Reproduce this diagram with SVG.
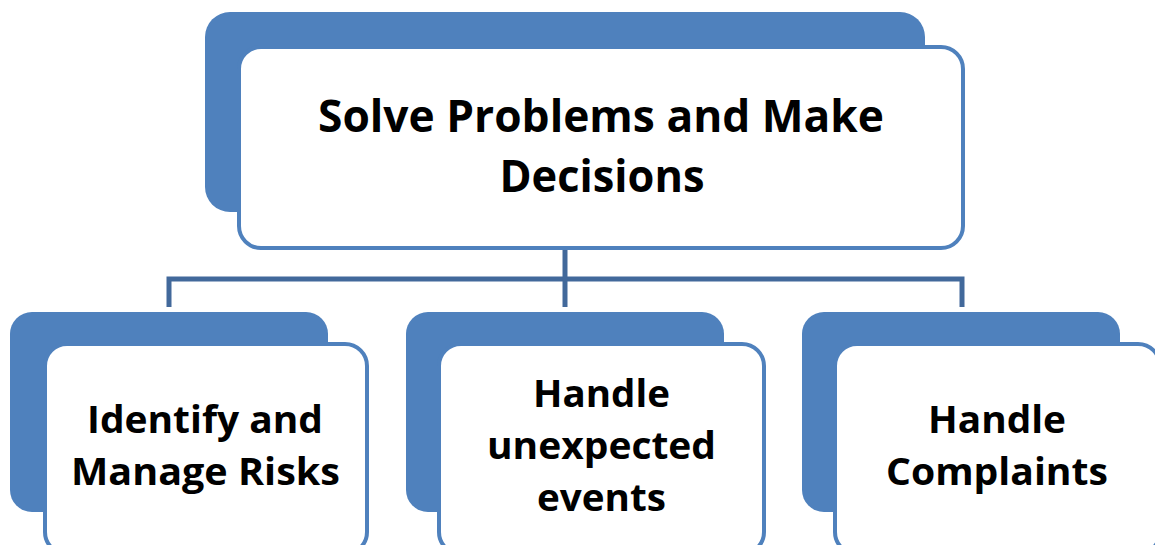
<svg xmlns="http://www.w3.org/2000/svg" width="1155" height="545" viewBox="0 0 1155 545">
<style>
.back{fill:#4f81bd;}
.front{fill:#ffffff;stroke:#4f81bd;stroke-width:4;}
.conn{fill:none;stroke:#42699b;stroke-width:5;}
.t{font-family:"Open Sans","Liberation Sans",sans-serif;font-weight:bold;fill:#000000;text-anchor:middle;}
.tt{font-size:45px;}
.bt{font-size:38px;}
</style>
<rect width="1155" height="545" fill="#ffffff"/>
<g id="connectors">
<path class="conn" d="M169 307 V279 H962 V307"/>
<path class="conn" d="M565 249 V307"/>
</g>
<g id="node-top">
<rect class="back" x="205" y="12" width="720" height="200" rx="25"/>
<rect class="front" x="239" y="47" width="724" height="201" rx="22"/>
<text class="t tt" x="601" y="132" textLength="566" lengthAdjust="spacingAndGlyphs">Solve Problems and Make</text>
<text class="t tt" x="602" y="192" textLength="205" lengthAdjust="spacingAndGlyphs">Decisions</text>
</g>
<g id="node-risks">
<rect class="back" x="10" y="312" width="318" height="200" rx="22"/>
<rect class="front" x="45" y="344" width="322" height="210" rx="22"/>
<text class="t bt" x="205" y="433" textLength="236" lengthAdjust="spacingAndGlyphs">Identify and</text>
<text class="t bt" x="205.5" y="485" textLength="269" lengthAdjust="spacingAndGlyphs">Manage Risks</text>
</g>
<g id="node-unexpected">
<rect class="back" x="406" y="312" width="318" height="200" rx="22"/>
<rect class="front" x="439" y="344" width="325" height="210" rx="22"/>
<text class="t bt" x="601.5" y="407" textLength="137" lengthAdjust="spacingAndGlyphs">Handle</text>
<text class="t bt" x="601.5" y="459" textLength="229" lengthAdjust="spacingAndGlyphs">unexpected</text>
<text class="t bt" x="601.5" y="511" textLength="129" lengthAdjust="spacingAndGlyphs">events</text>
</g>
<g id="node-complaints">
<rect class="back" x="802" y="312" width="318" height="200" rx="22"/>
<rect class="front" x="835" y="344" width="325" height="210" rx="22"/>
<text class="t bt" x="997" y="433" textLength="138" lengthAdjust="spacingAndGlyphs">Handle</text>
<text class="t bt" x="997" y="485" textLength="222" lengthAdjust="spacingAndGlyphs">Complaints</text>
</g>
</svg>
